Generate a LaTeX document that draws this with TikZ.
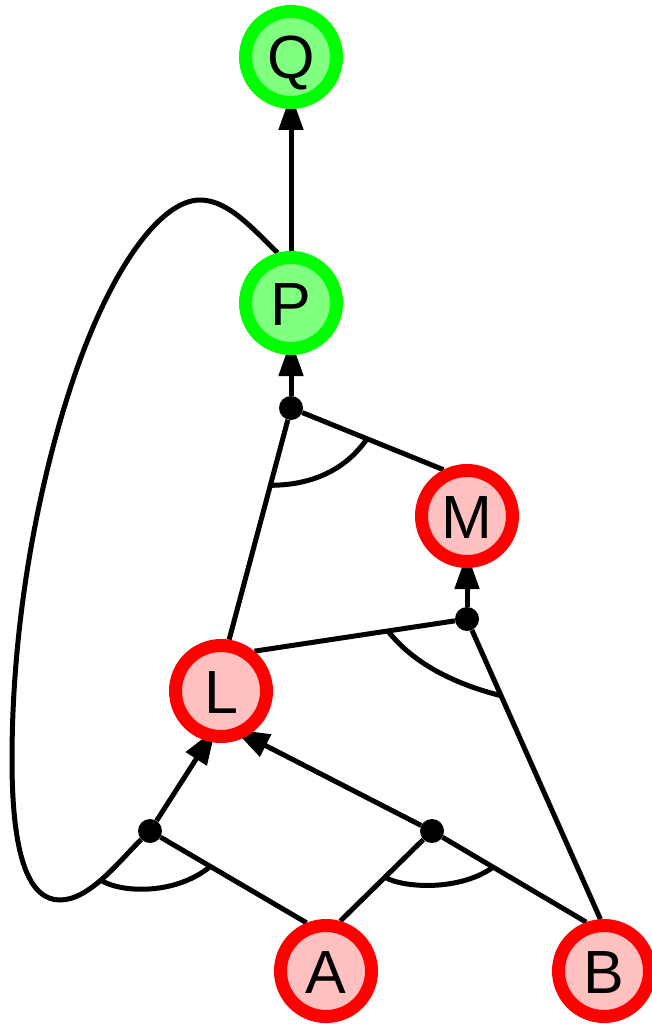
\documentclass[tikz,border=0pt]{standalone}
\usepackage{fontspec}
\setmainfont{Liberation Sans}
\usetikzlibrary{arrows.meta,backgrounds,calc}
\definecolor{gring}{HTML}{00FF00}
\definecolor{gfill}{HTML}{80FF80}
\definecolor{rring}{HTML}{FF0000}
\definecolor{rfill}{HTML}{FFC0C0}
\tikzset{
  state/.style={circle, line width=13pt, minimum size=91pt, inner sep=0pt,
    font=\fontsize{61}{61}\selectfont, text height=44pt, text depth=0pt},
  goal/.style={state, draw=gring, fill=gfill},
  fact/.style={state, draw=rring, fill=rfill},
  junction/.style={circle, fill=black, minimum size=24pt, inner sep=0pt},
  edge/.style={line width=5pt, line join=round},
  arr/.style={edge, -{Triangle[length=36pt,width=24pt]}, shorten >=-15pt},
  andarc/.style={line width=5pt},
}
\begin{document}
\begin{tikzpicture}[x=1pt, y=-1pt]
\useasboundingbox (0,0) rectangle (651,1024);
% nodes
\node[goal] (Q) at (291,57) {Q};
\node[goal] (P) at (291,303) {P};
\node[fact] (M) at (467,516) {M};
\node[fact] (L) at (221,691) {L};
\node[fact] (A) at (326,971) {A};
\node[fact] (B) at (604,971) {B};
\node[junction] (d1) at (291,408) {};
\node[junction] (d2) at (467,619) {};
\node[junction] (d3) at (150,831) {};
\node[junction] (d4) at (432,831) {};
\begin{scope}[on background layer]
  % arrows
  \draw[arr] (P) -- (Q);
  \draw[arr] (d1) -- (P);
  \draw[arr] (d2) -- (M);
  \draw[arr] (d3) -- (L.255);
  \draw[arr] (d4) -- (L.300);
  % plain edges
  \draw[edge] (d1) -- (L.81);
  \draw[edge] (d1) -- (M.117);
  \draw[edge] (d2) -- (L.50);
  \draw[edge] (d2) -- (B.94);
  \draw[edge] (d3) -- (A.112);
  \draw[edge] (d4) -- (A.74);
  \draw[edge] (d4) -- (B.110);
  % loop from P to d3
  \draw[edge] (P.105) .. controls (252,228) and (228,200) .. (200,200)
     .. controls (160,200) and (110,270) .. (73,380)
     .. controls (46,460) and (12,600) .. (12,760)
     .. controls (12,860) and (30,900) .. (60,900)
     .. controls (90,900) and (120,860) .. (d3);
  % and-arcs
  \coordinate (a1s) at ($(d1)!80pt!(L.81)$);
  \coordinate (a1e) at ($(d1)!82pt!(M.117)$);
  \draw[andarc] (a1s) .. controls +(40,0) and +(-22,32) .. (a1e);
  \coordinate (a2s) at ($(d2)!80pt!(L.50)$);
  \coordinate (a2e) at ($(d2)!84pt!(B.94)$);
  \draw[andarc] (a2s) .. controls +(22,28) and +(-55,-14) .. (a2e);
  \coordinate (a3s) at (100.5,880);
  \coordinate (a3e) at ($(d3)!70pt!(A.112)$);
  \draw[andarc] (a3s) .. controls +(20,13) and +(-35,29) .. (a3e);
  \coordinate (a4s) at ($(d4)!66pt!(A.74)$);
  \coordinate (a4e) at ($(d4)!71pt!(B.110)$);
  \draw[andarc] (a4s) .. controls +(19,11) and +(-33,24) .. (a4e);
\end{scope}
\end{tikzpicture}
\end{document}
